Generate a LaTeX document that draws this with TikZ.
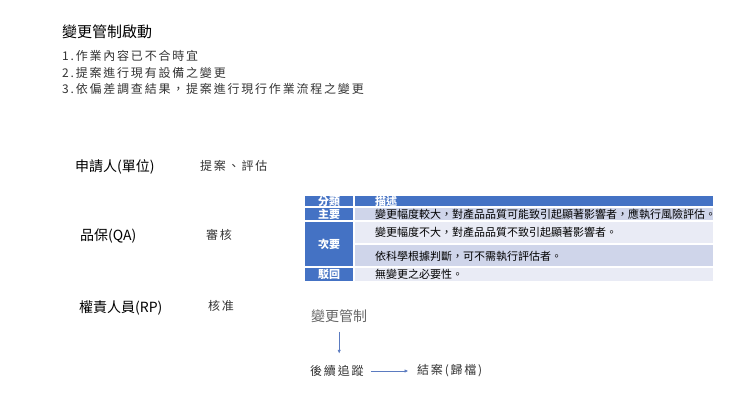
\documentclass[tikz,border=0pt]{standalone}
\usepackage{fontspec}
\newfontfamily\hei{Noto Sans CJK TC}
\newfontfamily\kai[LetterSpace=15]{Noto Sans CJK TC}
\usetikzlibrary{arrows.meta}
\definecolor{hdrblue}{HTML}{4472C4}
\definecolor{rowdark}{HTML}{CFD5EA}
\definecolor{rowlight}{HTML}{E9EBF5}
\definecolor{flowline}{HTML}{5B7BC0}
\tikzset{
  hei/.style={font=\hei\fontsize{14}{16}\selectfont, inner sep=0pt, anchor=west},
  kai/.style={font=\kai\fontsize{12}{14}\selectfont, text=black!80, inner sep=0pt, anchor=west},
  cell/.style={font=\hei\fontsize{11}{12}\selectfont, inner sep=0pt, anchor=west},
  tag/.style={font=\hei\bfseries\fontsize{11}{12}\selectfont, text=white, inner sep=0pt},
  flow/.style={draw=flowline, line width=0.6pt, -{Triangle[length=3.5pt,width=3pt]}},
}
\begin{document}
\begin{tikzpicture}[x=1pt,y=-1pt]
      \useasboundingbox (0,0) rectangle (740,416);
      % heading and reasons
      \draw
        (62,32) node[hei, font=\hei\fontsize{15}{17}\selectfont] (title){變更管制啟動}
        (62,56) node[kai] (why1){1.作業內容已不合時宜}
        (62,73) node[kai] (why2){2.提案進行現有設備之變更}
        (62,89) node[kai] (why3){3.依偏差調查結果，提案進行現行作業流程之變更};
      % roles
      \draw
        (75,167) node[hei] (applicant){申請人(單位)}
        (200,166) node[kai] (propose){提案、評估}
        (80,236) node[hei] (qa){品保(QA)}
        (206,235) node[kai] (review){審核}
        (79,308) node[hei] (rp){權責人員(RP)}
        (208,306) node[kai] (approve){核准};
      % table
      \fill[hdrblue] (305,196) rectangle (353,206);
      \fill[hdrblue] (355,196) rectangle (713,206);
      \fill[hdrblue] (305,208) rectangle (353,220);
      \fill[rowdark] (355,208) rectangle (713,220);
      \fill[hdrblue] (305,222) rectangle (353,266);
      \fill[rowlight] (355,222) rectangle (713,243);
      \fill[rowdark] (355,245) rectangle (713,266);
      \fill[hdrblue] (305,268) rectangle (353,281);
      \fill[rowlight] (355,268) rectangle (713,281);
      \draw
        (329,201) node[tag] (classhead){分類}
        (375,201) node[tag, anchor=west] (deschead){描述}
        (329,214) node[tag] (major){主要}
        (375,214) node[cell] (majordesc){變更幅度較大，對產品品質可能致引起顯著影響者，應執行風險評估。}
        (329,244) node[tag] (minor){次要}
        (375,232) node[cell] (minordesc){變更幅度不大，對產品品質不致引起顯著影響者。}
        (375,256) node[cell] (minorsci){依科學根據判斷，可不需執行評估者。}
        (329,274) node[tag] (reject){駁回}
        (375,274) node[cell] (rejectdesc){無變更之必要性。};
      % follow-up flow
      \draw
        (311,316) node[hei, text=black!60] (ctrl){變更管制}
        (310,371) node[kai] (track){後續追蹤}
        (417,371) node[kai] (close){結案(歸檔)};
      \begin{scope}[flow]
        \draw[shorten <=9pt, shorten >=12pt] (ctrl.south) -- (ctrl.south |- track.north);
        \draw[shorten <=7pt, shorten >=9pt] (track.east) -- (close.west);
      \end{scope}
    \end{tikzpicture}
\end{document}
